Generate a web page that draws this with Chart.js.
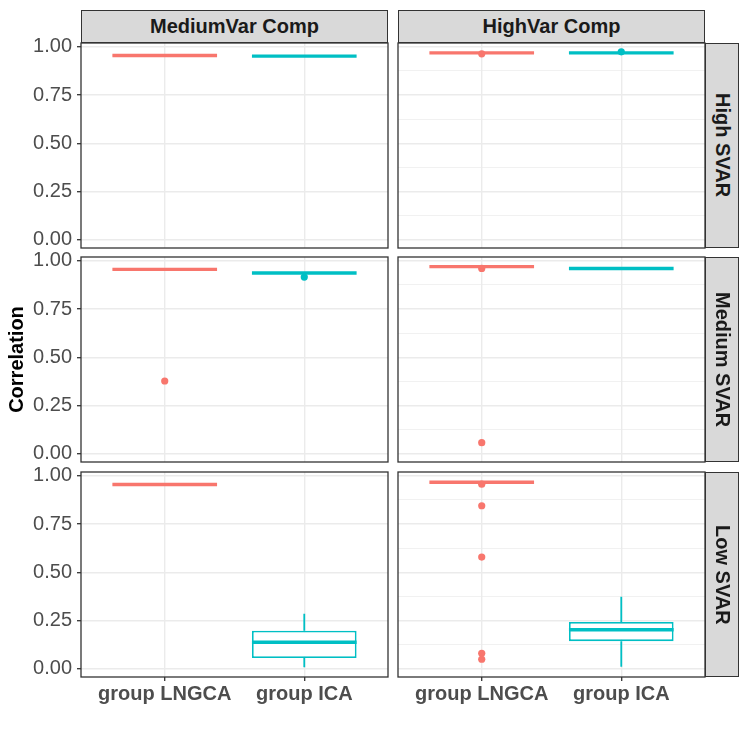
<!DOCTYPE html>
<html lang="en">
<head>
<meta charset="UTF-8">
<title>Correlation boxplots</title>
<script src="https://cdn.jsdelivr.net/npm/chart.js@4"></script>
<style>
    body { margin: 0; background: #fff; width: 747px; height: 737px; position: relative; overflow: hidden; font-family: "Liberation Sans", Arial, sans-serif; }
    canvas, .strip { position: absolute; }
    .strip { background: #D9D9D9; border: 1.3px solid #333; box-sizing: border-box; color: #1A1A1A; font-weight: bold; font-size: 20px; display: flex; align-items: center; justify-content: center; }
    .strip.v { writing-mode: vertical-rl; }
</style>
</head>
<body>
<script>
// categories and facet labels
const groups = ['group LNGCA', 'group ICA'];
const colTitles = ['MediumVar Comp', 'HighVar Comp'];
const rowTitles = ['High SVAR', 'Medium SVAR', 'Low SVAR'];
const yTickLabels = ['0.00', '0.25', '0.50', '0.75', '1.00'];

// box stats per panel (row-major: High/MediumVar, High/HighVar, Medium/MediumVar, ...), [LNGCA, ICA]
const boxLower  = [[0.954, 0.951], [0.968, 0.968], [0.955, 0.936], [0.969, 0.959], [0.954, 0.007], [0.966, 0.010]];
const boxQ1     = [[0.954, 0.951], [0.968, 0.968], [0.955, 0.936], [0.969, 0.959], [0.954, 0.055], [0.966, 0.143]];
const boxMedian = [[0.955, 0.952], [0.969, 0.969], [0.956, 0.937], [0.970, 0.960], [0.955, 0.137], [0.967, 0.202]];
const boxQ3     = [[0.956, 0.953], [0.970, 0.970], [0.957, 0.938], [0.971, 0.961], [0.956, 0.197], [0.968, 0.242]];
const boxUpper  = [[0.956, 0.953], [0.970, 0.970], [0.957, 0.938], [0.971, 0.961], [0.956, 0.285], [0.968, 0.373]];

// outliers per panel
const outliersLNGCA = [[], [0.964], [0.377], [0.961, 0.057], [], [0.957, 0.845, 0.579, 0.080, 0.049]];
const outliersICA   = [[], [0.974], [0.916], [], [], []];

const colors = ['#F8766D', '#00BFC4'];

// layout of the facet grid
const panelLeft = [81, 398];
const panelTop = [43, 257, 472];
const panelW = 307, panelH = 205;
const yAxisW = 81, xAxisH = 60, m = 12;

const isMajor = v => Math.abs(v * 4 - Math.round(v * 4)) < 1e-6;
const noPad = s => { s.paddingTop = 0; s.paddingBottom = 0; s.paddingLeft = 0; s.paddingRight = 0; };

const boxExtras = {
    id: 'boxExtras',
    afterDatasetsDraw(chart) {
        const p = chart.options.plugins.boxExtras.panel;
        const xs = chart.scales.x, ys = chart.scales.y;
        const ctx = chart.ctx;
        ctx.save();
        for (let g = 0; g < 2; g++) {
            const x = xs.getPixelForValue(g + 1);
            const half = xs.getPixelForValue(g + 1.375) - x;
            ctx.strokeStyle = colors[g];
            ctx.lineCap = 'butt';
            // whiskers
            ctx.lineWidth = 1.8;
            ctx.beginPath();
            ctx.moveTo(x, ys.getPixelForValue(boxQ3[p][g]));
            ctx.lineTo(x, ys.getPixelForValue(boxUpper[p][g]));
            ctx.moveTo(x, ys.getPixelForValue(boxQ1[p][g]));
            ctx.lineTo(x, ys.getPixelForValue(boxLower[p][g]));
            ctx.stroke();
            // median
            ctx.lineWidth = 3.4;
            const ym = ys.getPixelForValue(boxMedian[p][g]);
            ctx.beginPath();
            ctx.moveTo(x - half, ym);
            ctx.lineTo(x + half, ym);
            ctx.stroke();
        }
        ctx.restore();
    },
    afterDraw(chart) {
        const a = chart.chartArea, ctx = chart.ctx;
        ctx.save();
        ctx.strokeStyle = '#333333';
        ctx.lineWidth = 1.3;
        ctx.strokeRect(a.left, a.top, a.right - a.left, a.bottom - a.top);
        ctx.restore();
    }
};

function addStrip(text, left, top, w, h, vertical) {
    const d = document.createElement('div');
    d.className = 'strip' + (vertical ? ' v' : '');
    d.textContent = text;
    Object.assign(d.style, { left: left + 'px', top: top + 'px', width: w + 'px', height: h + 'px' });
    document.body.appendChild(d);
}

for (let r = 0; r < 3; r++) {
    for (let c = 0; c < 2; c++) {
        const p = r * 2 + c;
        const leftExtra = c === 0 ? yAxisW : 2;
        const bottomExtra = r === 2 ? xAxisH : m;
        const canvas = document.createElement('canvas');
        canvas.width = panelW + leftExtra + 2;
        canvas.height = panelH + bottomExtra + m;
        canvas.style.left = (panelLeft[c] - leftExtra) + 'px';
        canvas.style.top = (panelTop[r] - m) + 'px';
        document.body.appendChild(canvas);

        new Chart(canvas, {
            type: 'bar',
            data: {
                datasets: [
                    {
                        type: 'bar',
                        order: 1,
                        data: groups.map((g, i) => ({ x: i + 1, y: [boxQ1[p][i], boxQ3[p][i]] })),
                        backgroundColor: '#ffffff',
                        borderColor: colors,
                        borderWidth: 1.8,
                        borderSkipped: false,
                        barPercentage: 0.75,
                        categoryPercentage: 1
                    },
                    {
                        type: 'scatter',
                        order: 2,
                        data: outliersLNGCA[p].map(v => ({ x: 1, y: v })),
                        backgroundColor: colors[0],
                        borderWidth: 0,
                        pointRadius: 3.6
                    },
                    {
                        type: 'scatter',
                        order: 2,
                        data: outliersICA[p].map(v => ({ x: 2, y: v })),
                        backgroundColor: colors[1],
                        borderWidth: 0,
                        pointRadius: 3.6
                    }
                ]
            },
            options: {
                responsive: false,
                animation: false,
                layout: {
                    autoPadding: false,
                    padding: { top: m, right: 2, left: c === 0 ? 0 : 2, bottom: r === 2 ? 0 : m }
                },
                plugins: {
                    legend: { display: false },
                    tooltip: { enabled: false },
                    boxExtras: { panel: p }
                },
                scales: {
                    x: {
                        type: 'linear',
                        min: 0.4,
                        max: 2.6,
                        offset: false,
                        afterBuildTicks: s => { s.ticks = [{ value: 1 }, { value: 2 }]; },
                        afterFit: s => { s.height = r === 2 ? xAxisH : 0; noPad(s); },
                        grid: { offset: false, color: '#EBEBEB', lineWidth: 1.4, drawTicks: r === 2, tickLength: 4, tickColor: '#333333', tickWidth: 1.3 },
                        border: { display: false },
                        ticks: {
                            display: r === 2,
                            padding: 1,
                            color: '#4D4D4D',
                            font: { family: 'Liberation Sans', size: 20, weight: 'bold' },
                            maxRotation: 0,
                            callback: v => groups[Math.round(v) - 1]
                        }
                    },
                    y: {
                        type: 'linear',
                        min: -0.043,
                        max: 1.02,
                        afterBuildTicks: s => { s.ticks = [0, 0.125, 0.25, 0.375, 0.5, 0.625, 0.75, 0.875, 1].map(v => ({ value: v })); },
                        afterFit: s => { s.width = c === 0 ? yAxisW : 0; noPad(s); },
                        grid: {
                            color: '#EBEBEB',
                            lineWidth: ctx => isMajor(ctx.tick.value) ? 1.4 : 0.7,
                            drawTicks: c === 0,
                            tickLength: 4,
                            tickWidth: 1.3,
                            tickColor: ctx => isMajor(ctx.tick.value) ? '#333333' : 'rgba(0,0,0,0)'
                        },
                        border: { display: false },
                        ticks: {
                            display: c === 0,
                            padding: 5,
                            color: '#4D4D4D',
                            font: { family: 'Liberation Sans', size: 20 },
                            callback: v => isMajor(v) ? yTickLabels[Math.round(v * 4)] : ''
                        },
                        title: {
                            display: c === 0 && r === 1,
                            text: 'Correlation',
                            color: '#000000',
                            padding: { top: 5, bottom: 0 },
                            font: { family: 'Liberation Sans', size: 20, weight: 'bold' }
                        }
                    }
                }
            },
            plugins: [boxExtras]
        });
    }
}

colTitles.forEach((t, c) => addStrip(t, panelLeft[c], 10, panelW, 33, false));
rowTitles.forEach((t, r) => addStrip(t, panelLeft[1] + panelW, panelTop[r], 34, panelH, true));
</script>
</body>
</html>
